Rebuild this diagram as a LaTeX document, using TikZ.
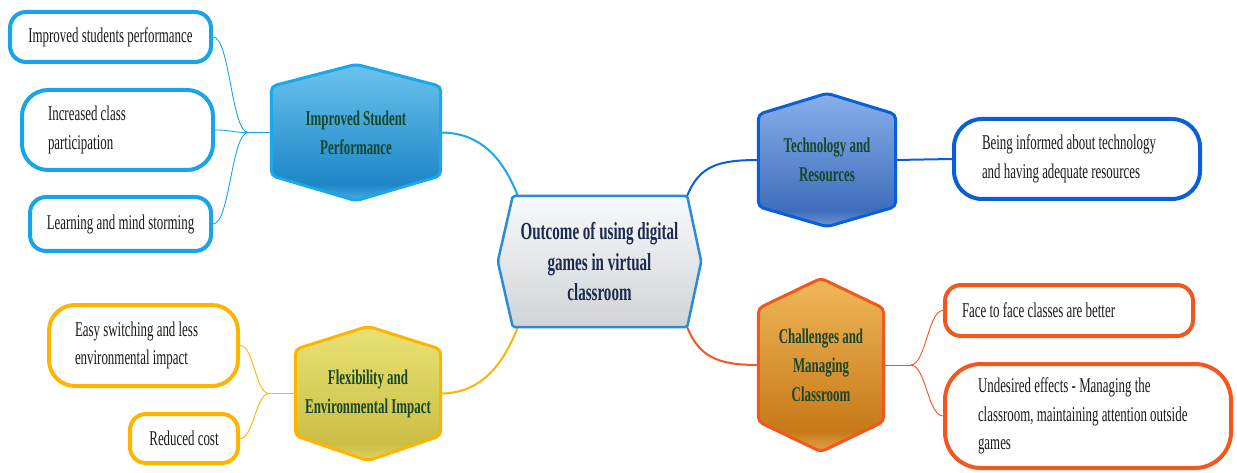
\documentclass[tikz,border=0pt]{standalone}
\usepackage{fontspec}
\setmainfont{Liberation Serif}[FakeStretch=0.615]
\usetikzlibrary{calc}
\pgfdeclarelayer{bg}
\pgfsetlayers{bg,main}

\definecolor{impB}{HTML}{1AA7EC}
\definecolor{impT}{HTML}{6BC3EE}
\definecolor{impD}{HTML}{1D86C6}
\definecolor{impL}{HTML}{4FAEDF}
\definecolor{bluel}{HTML}{17A4EA}
\definecolor{techB}{HTML}{0A5FD8}
\definecolor{techT}{HTML}{88B0EA}
\definecolor{techD}{HTML}{3F6DBC}
\definecolor{techL}{HTML}{6F95D8}
\definecolor{chalB}{HTML}{F4561F}
\definecolor{chalT}{HTML}{F0B85A}
\definecolor{chalD}{HTML}{C77918}
\definecolor{chalL}{HTML}{E3A44A}
\definecolor{flexB}{HTML}{FFB400}
\definecolor{flexT}{HTML}{E9E274}
\definecolor{flexD}{HTML}{CBBE45}
\definecolor{flexL}{HTML}{E0D56A}
\definecolor{ctrB}{HTML}{2C8BD6}
\definecolor{ctrT}{HTML}{F8F9FA}
\definecolor{ctrD}{HTML}{D0D4D7}
\definecolor{hextext}{HTML}{17472A}
\definecolor{ctrtext}{HTML}{1C2A4E}
\definecolor{leaftext}{HTML}{1A1A1A}

\pgfdeclareverticalshading{impsh}{100bp}{color(0bp)=(impL); color(25bp)=(impL); color(31bp)=(impD); color(75bp)=(impT); color(100bp)=(impT)}
\pgfdeclareverticalshading{techsh}{100bp}{color(0bp)=(techL); color(25bp)=(techL); color(31bp)=(techD); color(75bp)=(techT); color(100bp)=(techT)}
\pgfdeclareverticalshading{chalsh}{100bp}{color(0bp)=(chalL); color(25bp)=(chalL); color(31bp)=(chalD); color(75bp)=(chalT); color(100bp)=(chalT)}
\pgfdeclareverticalshading{flexsh}{100bp}{color(0bp)=(flexL); color(25bp)=(flexL); color(31bp)=(flexD); color(75bp)=(flexT); color(100bp)=(flexT)}
\pgfdeclareverticalshading{ctrsh}{100bp}{color(0bp)=(ctrD); color(25bp)=(ctrD); color(75bp)=(ctrT); color(100bp)=(ctrT)}

\tikzset{
  leaf/.style={draw, line width=4pt, fill=white, rounded corners=#1, inner sep=0pt,
    text=leaftext, font=\fontsize{21}{28.5}\selectfont},
  leaf/.default=16pt,
  hexlabel/.style={inner sep=0pt, align=center, text=hextext,
    font=\bfseries\fontsize{21}{29}\selectfont},
  hexbox/.style={line width=3pt, rounded corners=5pt},
  branch/.style={line width=2pt},
  twig/.style={line width=0.9pt},
}

\newcommand\vhex[4]{%
  \draw[hexbox, draw=#4B, shading=#4sh] (#1.north)
    -- ([yshift=-#2pt]#1.north east) -- ([yshift=#3pt]#1.south east)
    -- (#1.south) -- ([yshift=#3pt]#1.south west)
    -- ([yshift=-#2pt]#1.north west) -- cycle;}

\begin{document}
\begin{tikzpicture}[x=1pt,y=-1pt]
\useasboundingbox (0,0) rectangle (1237,473);

% hexagon labels
\node[hexlabel, minimum width=169pt, minimum height=136pt] (imp) at (356,132.5) {Improved Student\\Performance};
\node[hexlabel, minimum width=137pt, minimum height=133pt] (tech) at (827,160) {Technology and\\Resources};
\node[hexlabel, minimum width=125pt, minimum height=173pt] (chal) at (821,365) {Challenges and\\Managing\\Classroom};
\node[hexlabel, minimum width=145pt, minimum height=134pt] (flex) at (368,393.5) {Flexibility and\\Environmental Impact};
\node[inner sep=0pt, align=center, text=ctrtext, font=\bfseries\fontsize{24.5}{30.5}\selectfont,
      minimum width=203pt, minimum height=131pt] (ctr) at (599.5,261.5) {Outcome of using digital\\games in virtual\\classroom};

% leaves
\node[leaf=16pt, draw=bluel, minimum width=201pt, minimum height=50pt] (L1) at (110.5,37) {Improved students performance};
\node[leaf=26pt, draw=bluel, minimum width=191pt, minimum height=80pt, text width=139pt, align=flush left] (L2) at (117.5,130) {Increased class\\participation};
\node[leaf=16pt, draw=bluel, minimum width=181pt, minimum height=54pt] (L3) at (120.5,224) {Learning and mind storming};
\node[leaf=28pt, draw=techB, minimum width=246pt, minimum height=80pt, text width=190pt, align=flush left] (T1) at (1077,159) {Being informed about technology\\and having adequate resources};
\node[leaf=16pt, draw=chalB, minimum width=248pt, minimum height=51pt, text width=214pt, align=flush left] (C1) at (1069,310.5) {Face to face classes are better};
\node[leaf=36pt, draw=chalB, minimum width=286pt, minimum height=104pt, text width=220pt, align=flush left] (C2) at (1088,416) {Undesired effects - Managing the\\classroom, maintaining attention outside\\games};
\node[leaf=26pt, draw=flexB, minimum width=189pt, minimum height=81pt, text width=137pt, align=flush left] (F1) at (143.5,345.5) {Easy switching and less\\environmental impact};
\node[leaf=16pt, draw=flexB, minimum width=108pt, minimum height=49pt] (F2) at (184,438.5) {Reduced cost};

\coordinate (impj) at ([xshift=-23pt]imp.west);
\coordinate (chalj) at ([xshift=27pt]chal.east);
\coordinate (flexj) at ([xshift=-26pt]flex.west);

\begin{pgfonlayer}{bg}
  % main branches
  \draw[branch, impB] (imp.east) .. controls +(45,0) and +(-12,-30) .. ([xshift=20pt]ctr.north west);
  \draw[branch, techB] ([xshift=-14pt]ctr.north east) .. controls +(12,-30) and +(-40,0) .. (tech.west);
  \draw[branch, chalB] ([xshift=-14pt]ctr.south east) .. controls +(12,30) and +(-40,0) .. (chal.west);
  \draw[branch, flexB] ([xshift=20pt]ctr.south west) .. controls +(-12,30) and +(45,0) .. (flex.east);
  % twigs
  \draw[twig, bluel] (imp.west) -- (impj);
  \draw[twig, bluel] (impj) .. controls +(-17,0) and +(17,0) .. (L1.east);
  \draw[twig, bluel] (impj) .. controls +(-17,0) and +(17,0) .. (L2.east);
  \draw[twig, bluel] (impj) .. controls +(-17,0) and +(17,0) .. (L3.east);
  \draw[branch, techB] (tech.east) -- (T1.west);
  \draw[twig, chalB] (chal.east) -- (chalj);
  \draw[twig, chalB] (chalj) .. controls +(15,0) and +(-15,0) .. (C1.west);
  \draw[twig, chalB] (chalj) .. controls +(15,0) and +(-15,0) .. (C2.west);
  \draw[twig, flexB] (flex.west) -- (flexj);
  \draw[twig, flexB] (flexj) .. controls +(-14,0) and +(14,0) .. (F1.east);
  \draw[twig, flexB] (flexj) .. controls +(-14,0) and +(14,0) .. (F2.east);
  % shapes
  \vhex{imp}{22}{25}{imp}
  \vhex{tech}{21}{20}{tech}
  \vhex{chal}{30}{30}{chal}
  \vhex{flex}{23}{25}{flex}
  \draw[line width=2.5pt, draw=ctrB, shading=ctrsh, rounded corners=2pt] (ctr.west)
    -- ([xshift=15pt]ctr.north west) -- ([xshift=-14pt]ctr.north east) -- (ctr.east)
    -- ([xshift=-14pt]ctr.south east) -- ([xshift=15pt]ctr.south west) -- cycle;
\end{pgfonlayer}
\end{tikzpicture}
\end{document}
